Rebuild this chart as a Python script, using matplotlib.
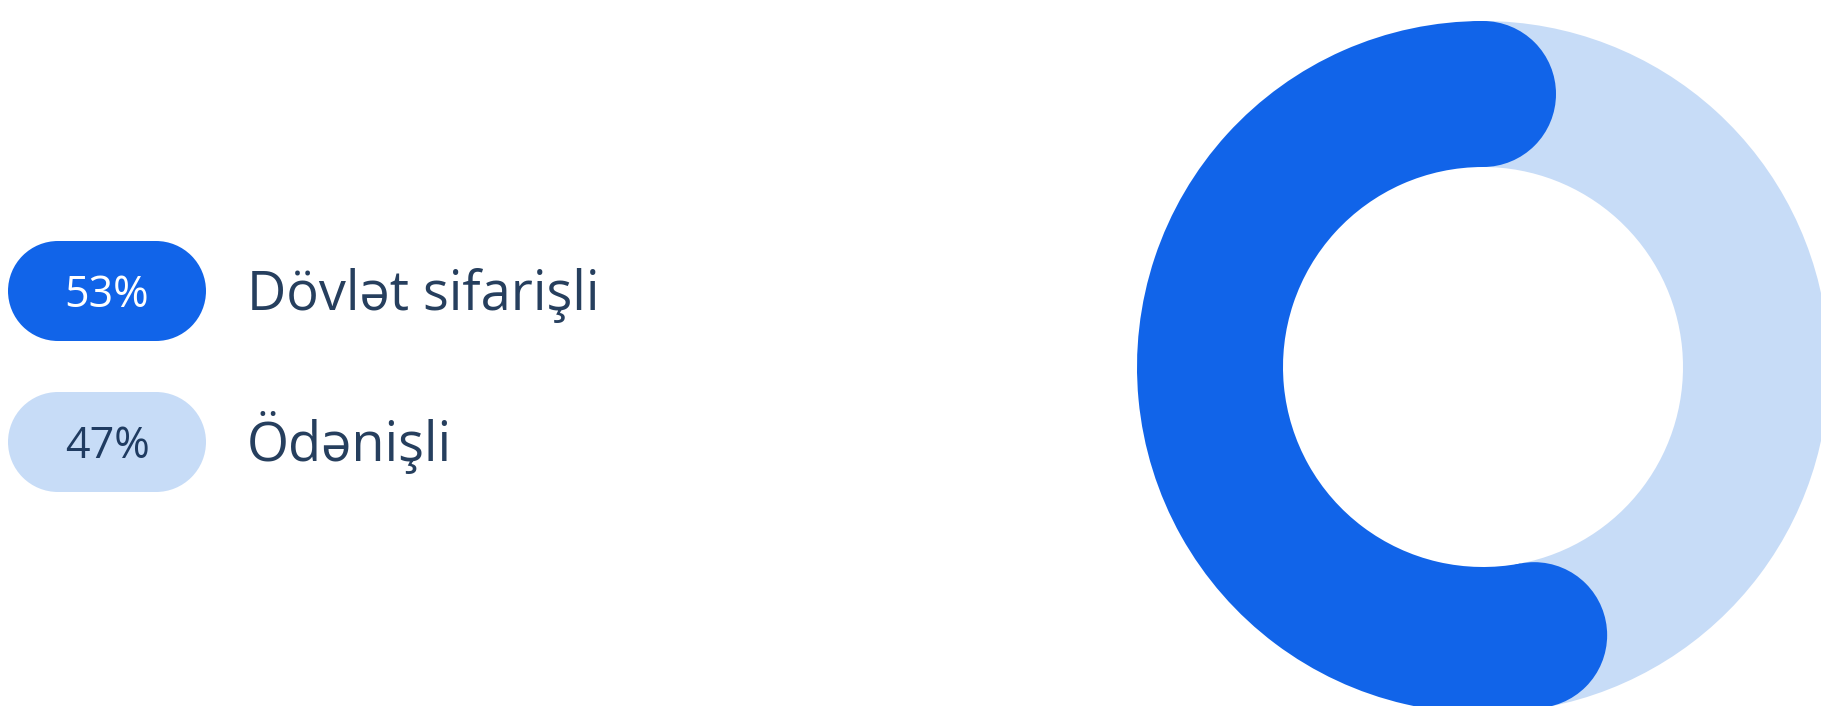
import matplotlib.pyplot as plt
from matplotlib.patches import Wedge, Circle, Rectangle
import numpy as np

# Paylar (faizlə)
labels = ["Dövlət sifarişli", "Ödənişli"]
shares = [53, 47]
colors = ["#1164E9", "#C7DCF7"]
pill_text_colors = ["#FFFFFF", "#1F3B61"]
text_color = "#263F5E"

W, H = 1821, 706
fig = plt.figure(figsize=(W / 100, H / 100), dpi=100)
ax = fig.add_axes([0, 0, 1, 1])
ax.set_xlim(0, W)
ax.set_ylim(0, H)
ax.set_aspect("equal")
ax.axis("off")

plt.rcParams["font.family"] = ["Open Sans", "DejaVu Sans"]

# Halqa diaqramı
cx, cy = 1483, H - 367
r_out, ring = 346, 146
r_mid = r_out - ring / 2

start = 90
end = start + 360 * shares[0] / sum(shares)
ax.add_patch(Wedge((cx, cy), r_out, end, start + 360, width=ring,
                   facecolor=colors[1], edgecolor="none"))
ax.add_patch(Wedge((cx, cy), r_out, start, end, width=ring,
                   facecolor=colors[0], edgecolor="none"))
# yuvarlaq uclar
for ang in (start, end):
    a = np.deg2rad(ang)
    ax.add_patch(Circle((cx + r_mid * np.cos(a), cy + r_mid * np.sin(a)),
                        ring / 2, facecolor=colors[0], edgecolor="none"))

# Legenda
row_y = [291, 442]
pill_x, pill_w, pill_h = 8, 198, 100
r = pill_h / 2
for i, (lab, val) in enumerate(zip(labels, shares)):
    yc = H - row_y[i]
    ax.add_patch(Rectangle((pill_x + r, yc - r), pill_w - 2 * r, pill_h,
                           facecolor=colors[i], edgecolor="none"))
    for xc in (pill_x + r, pill_x + pill_w - r):
        ax.add_patch(Circle((xc, yc), r, facecolor=colors[i], edgecolor="none"))
    ax.text(pill_x + pill_w / 2, yc - 16, f"{val}%", ha="center", va="baseline",
            fontsize=31, color=pill_text_colors[i])
    ax.text(247, yc - 19, lab, ha="left", va="baseline",
            fontsize=39, color=text_color)

fig.savefig("out.png", dpi=100)
